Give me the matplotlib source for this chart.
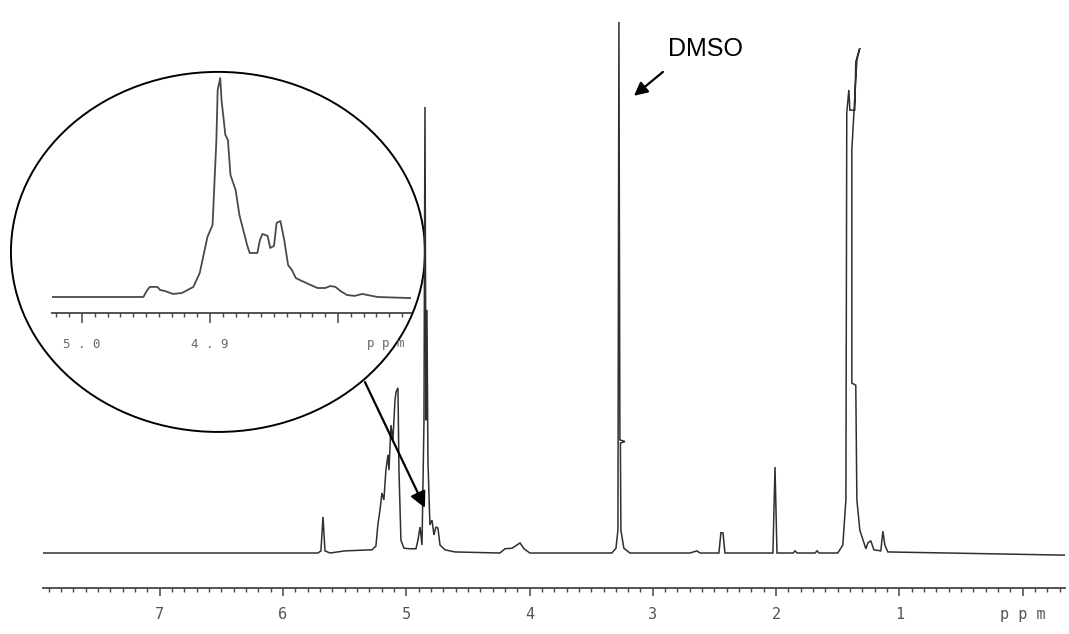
import numpy as np
import matplotlib
matplotlib.use("Agg")
import matplotlib.pyplot as plt
from matplotlib.patches import Ellipse
from matplotlib.ticker import MultipleLocator

# 1H NMR spectrum (chemical shift, ppm) and relative intensity (DMSO line = 100)
shift_ppm = [7.946, 5.716, 5.692, 5.675, 5.659, 5.618, 5.497, 5.278, 5.246, 5.230,
             5.213, 5.197, 5.181, 5.165, 5.148, 5.140, 5.124, 5.108, 5.091, 5.083,
             5.067, 5.059, 5.043, 5.018, 4.970, 4.921, 4.905, 4.888, 4.872, 4.856,
             4.848, 4.840, 4.832, 4.824, 4.808, 4.791, 4.775, 4.759, 4.743, 4.726,
             4.686, 4.605, 4.240, 4.199, 4.142, 4.102, 4.077, 4.045, 3.997, 3.332,
             3.299, 3.283, 3.275, 3.267, 3.226, 3.263, 3.259, 3.235, 3.186, 2.699,
             2.642, 2.618, 2.464, 2.448, 2.431, 2.415, 2.026, 2.009, 1.993, 1.862,
             1.846, 1.830, 1.684, 1.668, 1.651, 1.500, 1.459, 1.434, 1.427, 1.410,
             1.402, 1.362, 1.354, 1.321, 1.345, 1.386, 1.386, 1.354, 1.345, 1.321,
             1.272, 1.256, 1.232, 1.207, 1.151, 1.134, 1.118, 1.094, -0.343]
intensity = [0.0, 0.0, 0.4, 6.8, 0.4, 0.0, 0.4, 0.6, 1.3, 5.3,
             8.1, 11.3, 10.0, 15.6, 18.5, 15.6, 24.1, 21.3, 28.8, 30.3,
             31.1, 15.6, 2.4, 0.9, 0.8, 0.8, 2.4, 4.9, 1.5, 25.0,
             84.0, 25.0, 45.8, 17.5, 5.3, 6.2, 3.4, 4.9, 4.7, 1.5,
             0.6, 0.2, 0.0, 0.8, 0.9, 1.5, 1.9, 0.8, 0.0, 0.0,
             0.9, 4.3, 100.0, 21.3, 21.0, 20.7, 4.3, 0.9, 0.0, 0.0,
             0.4, 0.0, 0.0, 3.8, 3.8, 0.0, 0.0, 16.2, 0.0, 0.0,
             0.4, 0.0, 0.0, 0.4, 0.0, 0.0, 1.5, 10.0, 82.9, 87.2,
             83.4, 83.4, 92.5, 95.1, 92.8, 75.9, 32.0, 31.6, 10.0, 4.3,
             0.8, 1.9, 2.3, 0.6, 0.4, 4.1, 1.5, 0.2, -0.4]

# expanded 4.9 ppm region shown in the inset
inset_ppm = [5.0234, 4.952, 4.949, 4.947, 4.941, 4.939, 4.935, 4.929, 4.922, 4.913,
             4.908, 4.902, 4.898, 4.895, 4.894, 4.892, 4.891, 4.888, 4.886, 4.884,
             4.880, 4.877, 4.871, 4.869, 4.863, 4.861, 4.859, 4.855, 4.853, 4.850,
             4.848, 4.845, 4.842, 4.839, 4.836, 4.833, 4.830, 4.823, 4.816, 4.810,
             4.806, 4.802, 4.798, 4.793, 4.787, 4.781, 4.777, 4.769, 4.743]
inset_int = [0.0, 0.0, 3.2, 4.6, 4.6, 3.2, 2.7, 1.4, 1.8, 4.6,
             11.0, 27.4, 32.9, 71.7, 94.5, 100.0, 90.0, 74.0, 71.7, 55.7,
             48.9, 37.4, 23.7, 20.1, 20.1, 26.0, 28.8, 27.9, 22.4, 23.3,
             33.8, 34.7, 26.0, 14.6, 12.3, 8.7, 7.8, 5.9, 4.1, 4.1,
             5.0, 4.6, 2.7, 0.9, 0.5, 1.4, 0.9, 0.0, -0.5]

main_ticks = [7, 6, 5, 4, 3, 2, 1, 0]
main_labels = ["7", "6", "5", "4", "3", "2", "1", "p p m"]
inset_ticks = [5.0, 4.9, 4.8]
inset_labels = ["5 . 0", "4 . 9", ""]

W, H = 1069, 634
fig = plt.figure(figsize=(W / 100, H / 100), dpi=100)
fig.patch.set_facecolor("white")

# main spectrum
ax = fig.add_axes([43 / W, 46 / H, 1022 / W, 588 / H])
ax.plot(shift_ppm, intensity, color="#2f2f2f", lw=1.1, solid_joinstyle="miter")
ax.set_xlim(7.946, -0.343)
ax.set_ylim(-6.59, 104.14)
for side in ["left", "right", "top"]:
    ax.spines[side].set_visible(False)
ax.spines["bottom"].set_color("#444444")
ax.spines["bottom"].set_linewidth(1.3)
ax.set_yticks([])
ax.set_xticks(main_ticks)
ax.set_xticklabels(main_labels, family="DejaVu Sans Mono", fontsize=11, color="#555555")
ax.xaxis.set_minor_locator(MultipleLocator(0.1))
ax.tick_params(axis="x", which="major", length=6, width=1.1, color="#444444", pad=8)
ax.tick_params(axis="x", which="minor", length=3, width=1.0, color="#444444")
ax.patch.set_alpha(0)

# circle around the expansion and arrow to the 4.9 ppm signal
ax.add_patch(Ellipse((6.527, 56.7), 3.358, 67.8, fill=False, ec="black", lw=1.4, clip_on=False))
ax.annotate("", xy=(4.848, 8.5), xytext=(5.335, 32.2),
            arrowprops=dict(arrowstyle="-|>", color="black", lw=1.6,
                            mutation_scale=24, shrinkA=0, shrinkB=0))

# solvent label
ax.annotate("", xy=(3.153, 86.1), xytext=(2.918, 90.6),
            arrowprops=dict(arrowstyle="-|>", color="black", lw=1.6,
                            mutation_scale=20, shrinkA=0, shrinkB=0))
ax.text(2.569, 94.9, "DMSO", family="Liberation Sans", fontsize=18,
        ha="center", va="center", color="black")

# inset: expansion of the 4.9 ppm multiplet
ax_in = fig.add_axes([52 / W, (H - 313) / H, 359 / W, 243 / H])
ax_in.plot(inset_ppm, inset_int, color="#4a4a4a", lw=1.3)
ax_in.set_xlim(5.0234, 4.743)
ax_in.set_ylim(-7.31, 103.65)
for side in ["left", "right", "top"]:
    ax_in.spines[side].set_visible(False)
ax_in.spines["bottom"].set_color("#444444")
ax_in.spines["bottom"].set_linewidth(1.3)
ax_in.set_yticks([])
ax_in.set_xticks(inset_ticks)
ax_in.set_xticklabels(inset_labels, family="DejaVu Sans Mono", fontsize=9, color="#666666")
ax_in.xaxis.set_minor_locator(MultipleLocator(0.01))
ax_in.tick_params(axis="x", which="major", length=7, width=1.1, color="#444444", pad=11)
ax_in.tick_params(axis="x", which="minor", length=3, width=1.0, color="#444444")
ax_in.annotate("p p m", xy=(4.763, 0), xycoords=("data", "axes fraction"),
               xytext=(0, -30), textcoords="offset pixels", ha="center", va="center",
               family="DejaVu Sans Mono", fontsize=9, color="#666666")
ax_in.patch.set_alpha(0)

fig.savefig("out.png", dpi=100, facecolor="white")
